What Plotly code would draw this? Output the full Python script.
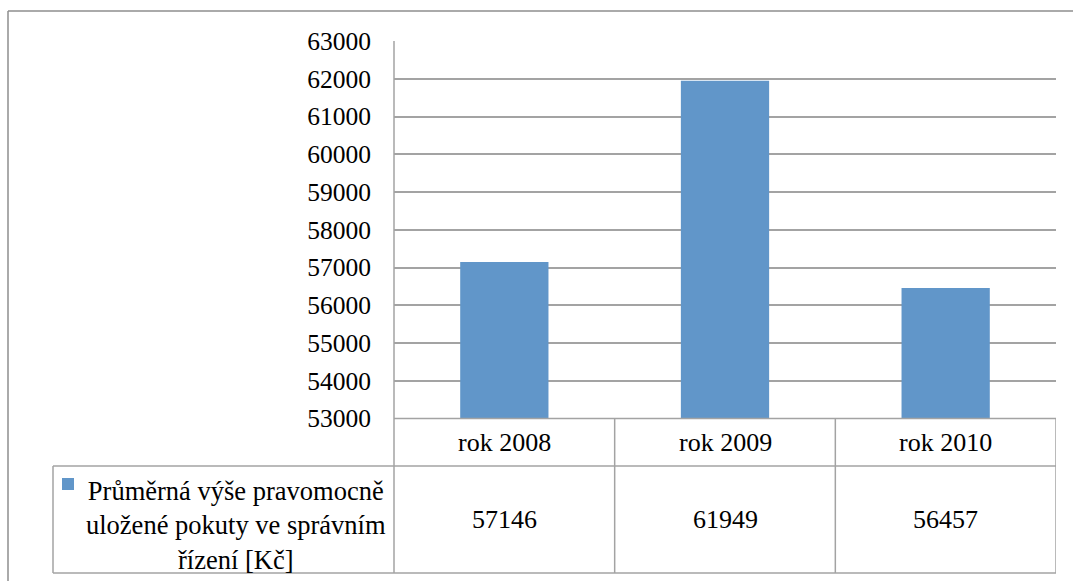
import plotly.graph_objects as go

categories = ["rok 2008", "rok 2009", "rok 2010"]
values = [57146, 61949, 56457]
series_name = "Průměrná výše pravomocně<br>uložené pokuty ve správním<br>řízení [Kč]"
y_ticks = list(range(53000, 63001, 1000))

W, H = 1073, 581
FONT = "Times New Roman, Liberation Serif, DejaVu Serif, serif"
BAR = "#6196C9"
GRID = "#A3A3A3"

def px(x):
    return x / W

def py(y):
    return 1 - y / H

x0p, x1p = 394, 1056
y_top, y_bot = 41, 418.5
row1_bot, row2_bot = 466, 573
leg_left = 53

fig = go.Figure()
fig.add_trace(go.Bar(x=list(range(len(categories))), y=values, marker_color=BAR,
                     marker_line_width=0, showlegend=False, name="series"))

shapes = []
line = dict(color=GRID, width=1.5)
border = dict(color="#8E8E8E", width=1.5)
shapes.append(dict(type="line", xref="paper", yref="paper", x0=px(8), x1=1, y0=py(11), y1=py(11), line=border))
shapes.append(dict(type="line", xref="paper", yref="paper", x0=px(8), x1=px(8), y0=py(11), y1=0, line=border))
shapes.append(dict(type="line", xref="paper", yref="paper", x0=px(x0p), x1=px(x0p), y0=py(y_top), y1=py(row2_bot), line=line))
shapes.append(dict(type="line", xref="paper", yref="paper", x0=px(x0p), x1=px(x1p), y0=py(y_bot), y1=py(y_bot), line=line))
shapes.append(dict(type="line", xref="paper", yref="paper", x0=px(leg_left), x1=px(x1p), y0=py(row1_bot), y1=py(row1_bot), line=line))
shapes.append(dict(type="line", xref="paper", yref="paper", x0=px(leg_left), x1=px(x1p), y0=py(row2_bot), y1=py(row2_bot), line=line))
shapes.append(dict(type="line", xref="paper", yref="paper", x0=px(leg_left), x1=px(leg_left), y0=py(row1_bot), y1=py(row2_bot), line=line))
for i in range(len(categories)):
    shapes.append(dict(type="line", xref="x", yref="paper", x0=i + 0.5, x1=i + 0.5, y0=py(y_bot), y1=py(row2_bot), line=line))
shapes.append(dict(type="rect", xref="paper", yref="paper", x0=px(62), x1=px(74), y0=py(490), y1=py(478), line=dict(width=0), fillcolor=BAR))

annotations = []
for i, (c, v) in enumerate(zip(categories, values)):
    annotations.append(dict(x=i, y=py((y_bot + row1_bot) / 2), xref="x", yref="paper", text=c, showarrow=False,
                            font=dict(family=FONT, size=26, color="black"), xanchor="center", yanchor="middle"))
    annotations.append(dict(x=i, y=py((row1_bot + row2_bot) / 2), xref="x", yref="paper", text=str(v), showarrow=False,
                            font=dict(family=FONT, size=26, color="black"), xanchor="center", yanchor="middle"))
annotations.append(dict(x=px(236), y=py(525), xref="paper", yref="paper", text=series_name, showarrow=False,
                        align="center", font=dict(family=FONT, size=26.5, color="black"), xanchor="center", yanchor="middle"))

fig.update_layout(
    width=W, height=H, autosize=False,
    font=dict(family=FONT, size=25, color="black"),
    margin=dict(l=0, r=0, t=0, b=0, pad=0),
    paper_bgcolor="white", plot_bgcolor="white",
    bargap=0.6,
    shapes=shapes, annotations=annotations,
    xaxis=dict(domain=[px(x0p), px(x1p)], range=[-0.5, len(categories) - 0.5], showticklabels=False,
               showgrid=False, zeroline=False, showline=False, ticks="", automargin=False),
    yaxis=dict(domain=[py(y_bot), py(y_top)], range=[53000, 63000], tickvals=y_ticks,
               ticktext=[str(t) for t in y_ticks], showgrid=True, gridcolor=GRID, gridwidth=1.5,
               zeroline=False, showline=False, ticks="", ticklabelstandoff=22, automargin=False,
               tickfont=dict(family=FONT, size=25.5, color="black")),
)
fig.write_html("out.html", config={"displayModeBar": False},
               post_script="document.body.style.margin='0';document.body.style.overflow='hidden';")
